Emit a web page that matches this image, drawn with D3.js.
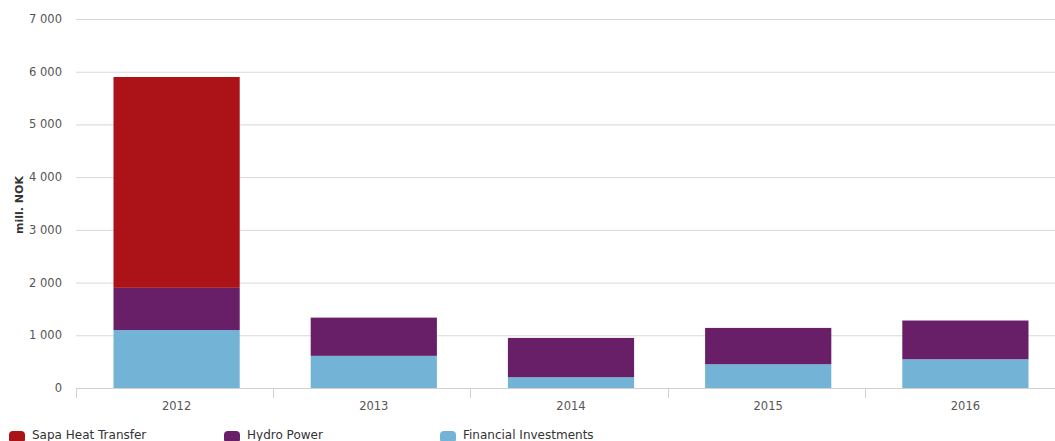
<!DOCTYPE html>
<html>
<head>
<meta charset="utf-8">
<script src="https://cdn.jsdelivr.net/npm/d3@7"></script>
<style>
  body { margin: 0; background: #fff; }
  svg text { font-family: "DejaVu Sans", Verdana, sans-serif; }
</style>
</head>
<body>
<div id="chart-area"></div>
<script>
// Data
const years = ["2012", "2013", "2014", "2015", "2016"];
const financialInvestments = [1100, 610, 205, 450, 545];
const hydroPower = [800, 725, 745, 690, 735];
const sapaHeatTransfer = [4000, 0, 0, 0, 0];
const seriesNames = ["Financial Investments", "Hydro Power", "Sapa Heat Transfer"];
const yTicks = [0, 1000, 2000, 3000, 4000, 5000, 6000, 7000];
const legendOrder = ["Sapa Heat Transfer", "Hydro Power", "Financial Investments"];

const colors = {
    "Sapa Heat Transfer": "#ab1319",
    "Hydro Power": "#681f68",
    "Financial Investments": "#73b4d6"
};

const W = 1055, H = 441;
const plot = { left: 76, right: 1062, top: 19, bottom: 388 };

const svg = d3.select("#chart-area").append("svg")
    .attr("width", W)
    .attr("height", H);

// Scales (bars sit a touch right of the band centre in the original)
const x = d3.scaleBand()
    .domain(years)
    .range([plot.left + 2, plot.right + 2])
    .paddingInner(0.36)
    .paddingOuter(0.18);

const y = d3.scaleLinear()
    .domain([0, 7000])
    .range([plot.bottom, plot.top]);

// Gridlines
svg.append("g")
    .selectAll("line")
    .data(yTicks.filter(d => d > 0))
    .join("line")
    .attr("x1", plot.left)
    .attr("x2", W)
    .attr("y1", d => y(d) + 0.5)
    .attr("y2", d => y(d) + 0.5)
    .attr("stroke", "#d8d8d8")
    .attr("stroke-width", 1);

// Y labels, space as thousands separator
const fmt = d => d3.format(",")(d).replace(/,/g, " ");
svg.append("g")
    .selectAll("text")
    .data(yTicks)
    .join("text")
    .attr("x", 62)
    .attr("y", d => y(d))
    .attr("dy", "0.35em")
    .attr("text-anchor", "end")
    .attr("font-size", "11.5px")
    .attr("fill", "#555")
    .text(fmt);

// Y axis title
svg.append("text")
    .attr("transform", "translate(23,205) rotate(-90)")
    .attr("text-anchor", "middle")
    .attr("font-size", "11px")
    .attr("font-weight", "bold")
    .attr("fill", "#333")
    .text("mill. NOK");

// Stacked bars
const rows = years.map((yr, i) => ({
    year: yr,
    "Financial Investments": financialInvestments[i],
    "Hydro Power": hydroPower[i],
    "Sapa Heat Transfer": sapaHeatTransfer[i]
}));
const stack = d3.stack().keys(seriesNames)(rows);

svg.append("g")
    .selectAll("g")
    .data(stack)
    .join("g")
    .attr("fill", d => colors[d.key])
    .selectAll("rect")
    .data(d => d.filter(s => s[1] - s[0] > 0))
    .join("rect")
    .attr("x", d => x(d.data.year))
    .attr("width", x.bandwidth())
    .attr("y", d => y(d[1]))
    .attr("height", d => y(d[0]) - y(d[1]));

// X axis line and tick marks at band boundaries
const xAxis = svg.append("g");
xAxis.append("line")
    .attr("x1", plot.left)
    .attr("x2", W)
    .attr("y1", plot.bottom + 0.5)
    .attr("y2", plot.bottom + 0.5)
    .attr("stroke", "#d0d0d0");

const boundaries = d3.range(years.length + 1).map(i => plot.left + i * (plot.right - plot.left) / years.length);
xAxis.selectAll(".tick")
    .data(boundaries)
    .join("line")
    .attr("class", "tick")
    .attr("x1", d => Math.round(d) + 0.5)
    .attr("x2", d => Math.round(d) + 0.5)
    .attr("y1", plot.bottom)
    .attr("y2", plot.bottom + 10)
    .attr("stroke", "#d0d0d0");

xAxis.selectAll("text")
    .data(years)
    .join("text")
    .attr("x", d => x(d) + x.bandwidth() / 2)
    .attr("y", 406)
    .attr("dy", "0.35em")
    .attr("text-anchor", "middle")
    .attr("font-size", "11.5px")
    .attr("fill", "#555")
    .text(d => d);

// Legend
const legendX = [9, 224, 440];
const legend = svg.append("g")
    .selectAll("g")
    .data(legendOrder)
    .join("g")
    .attr("transform", (d, i) => "translate(" + legendX[i] + ",0)");

legend.append("rect")
    .attr("x", 0)
    .attr("y", 431)
    .attr("width", 16)
    .attr("height", 12)
    .attr("rx", 4)
    .attr("fill", d => colors[d]);

legend.append("text")
    .attr("x", 23)
    .attr("y", 438.5)
    .attr("font-size", "12px")
    .attr("fill", "#333")
    .text(d => d);
</script>
</body>
</html>
